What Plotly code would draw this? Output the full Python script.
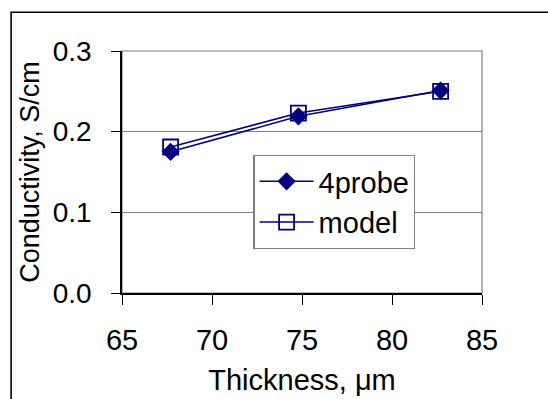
import plotly.graph_objects as go

# Measured conductivity vs. membrane thickness
thickness_4probe = [67.7, 74.8, 82.7]
conductivity_4probe = [0.175, 0.219, 0.251]

thickness_model = [67.7, 74.8, 82.7]
conductivity_model = [0.181, 0.223, 0.250]

x_ticks = [65, 70, 75, 80, 85]
y_ticks = [0.0, 0.1, 0.2, 0.3]

NAVY = "#000080"
FONT = "Liberation Sans, Arial, sans-serif"

fig = go.Figure()
fig.add_trace(go.Scatter(
    x=thickness_4probe, y=conductivity_4probe, name="4probe",
    mode="lines+markers",
    line=dict(color=NAVY, width=1.5),
    marker=dict(symbol="diamond", size=14, color=NAVY),
))
fig.add_trace(go.Scatter(
    x=thickness_model, y=conductivity_model, name="model",
    mode="lines+markers",
    line=dict(color=NAVY, width=1.5),
    marker=dict(symbol="square-open", size=15, color=NAVY,
                line=dict(color=NAVY, width=1.8)),
))

# plot-area frame (gray top/right) and outer chart frame
fig.add_shape(type="rect", xref="x domain", yref="y domain",
              x0=0, x1=1, y0=0, y1=1, line=dict(color="#808080", width=1.2),
              layer="below")
fig.add_shape(type="rect", xref="paper", yref="paper",
              x0=-0.308, x1=1.3, y0=-0.5, y1=1.160,
              line=dict(color="black", width=1.6))

fig.update_layout(
    width=548, height=399,
    margin=dict(l=122, r=66, t=51, b=106),
    paper_bgcolor="white", plot_bgcolor="white",
    font=dict(family=FONT, size=29, color="black"),
    showlegend=True,
    legend=dict(
        x=0.365, y=0.571, xanchor="left", yanchor="top",
        bgcolor="white", bordercolor="#808080", borderwidth=1.2,
        font=dict(family=FONT, size=29, color="black"),
        itemwidth=54,
    ),
    xaxis=dict(
        range=[65, 85], tickvals=x_ticks, ticktext=[str(v) for v in x_ticks],
        showgrid=False, zeroline=False, automargin=False,
        showline=True, linecolor="black", linewidth=1.5,
        ticks="outside", ticklen=10, tickcolor="black", tickwidth=1.3,
        ticklabelstandoff=10, tickfont=dict(size=29),
        title=dict(text="Thickness, \u03bcm", standoff=15,
                   font=dict(family=FONT, size=29)),
    ),
    yaxis=dict(
        range=[0, 0.3], tickvals=y_ticks, ticktext=[f"{v:.1f}" for v in y_ticks],
        showgrid=True, gridcolor="#808080", gridwidth=1.2, zeroline=False,
        automargin=False,
        showline=True, linecolor="black", linewidth=1.5,
        ticks="outside", ticklen=9, tickcolor="black", tickwidth=1.3,
        ticklabelstandoff=14, tickfont=dict(size=28),
        title=dict(text="Conductivity, S/cm", standoff=5,
                   font=dict(family=FONT, size=27)),
    ),
)

fig.write_html("out.html")
